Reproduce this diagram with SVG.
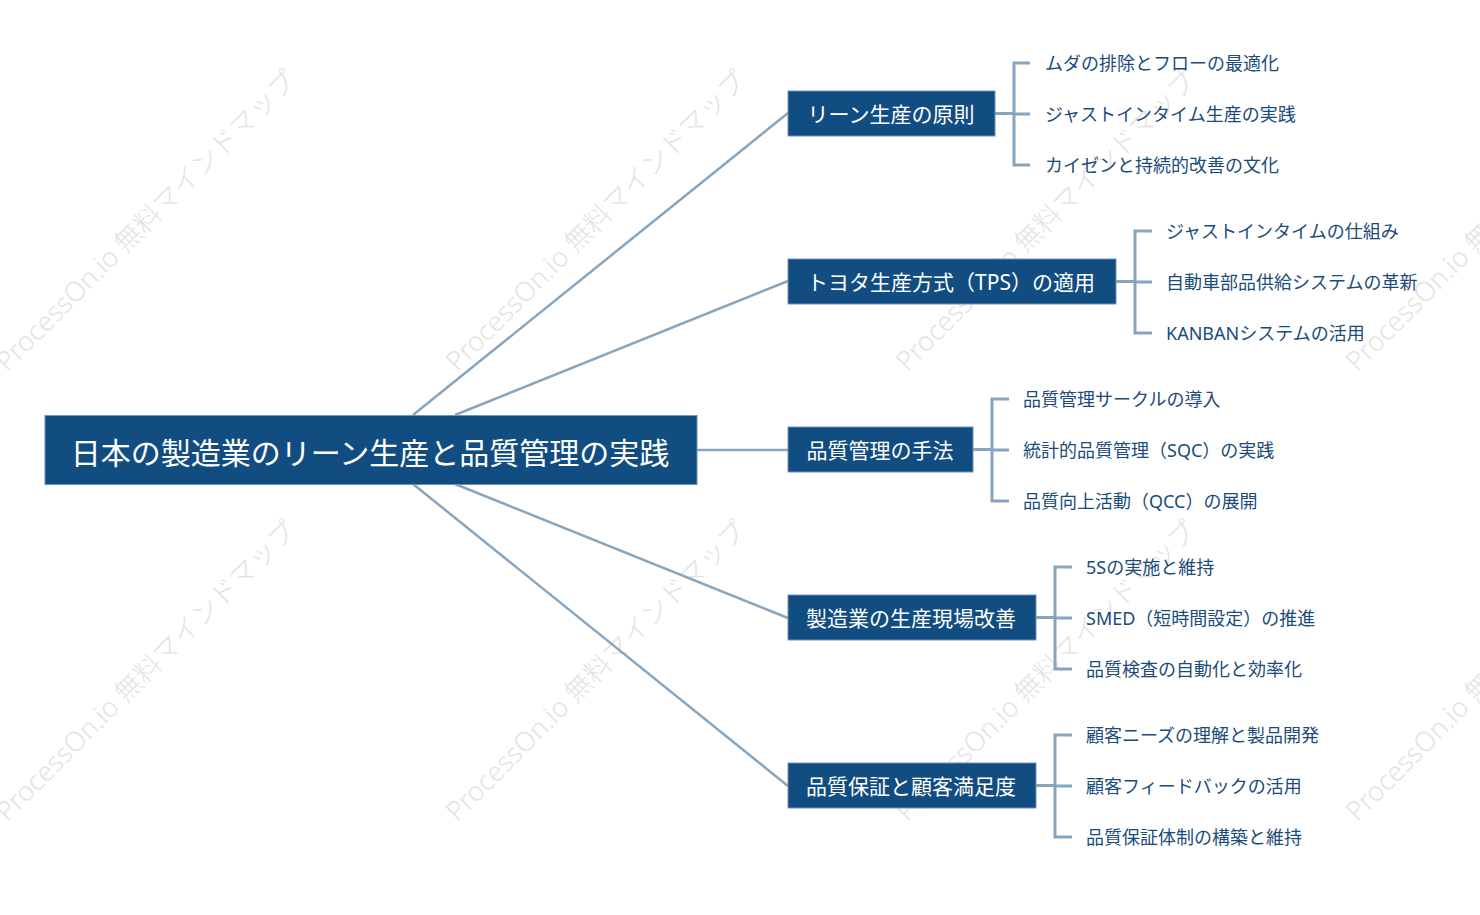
<svg xmlns="http://www.w3.org/2000/svg" width="1480" height="915" viewBox="0 0 1480 915">
<style>
.wm{font-family:"Noto Sans","Noto Sans CJK JP",sans-serif;font-size:27px;font-weight:300;fill:#e3e3e3;text-anchor:middle;dominant-baseline:central}
.box{fill:#114d80;stroke:#6f93b5;stroke-width:1}
.rt{font-family:"Noto Sans","Noto Sans CJK JP",sans-serif;font-size:30px;fill:#fff;text-anchor:middle;dominant-baseline:central}
.bt{font-family:"Noto Sans","Noto Sans CJK JP",sans-serif;font-size:21px;fill:#fff;text-anchor:middle;dominant-baseline:central}
.lt{font-family:"Noto Sans","Noto Sans CJK JP",sans-serif;font-size:18px;fill:#1a4b7a;dominant-baseline:central}
.c{fill:none;stroke:#87a5bf;stroke-width:2.5}
.br{fill:none;stroke:#87a5bf;stroke-width:3}
</style>
<rect width="1480" height="915" fill="#fff"/>
<g id="watermarks">
<text class="wm" transform="translate(145,220) rotate(-45)">ProcessOn.io 無料マインドマップ</text>
<text class="wm" transform="translate(595,220) rotate(-45)">ProcessOn.io 無料マインドマップ</text>
<text class="wm" transform="translate(1045,220) rotate(-45)">ProcessOn.io 無料マインドマップ</text>
<text class="wm" transform="translate(1495,220) rotate(-45)">ProcessOn.io 無料マインドマップ</text>
<text class="wm" transform="translate(145,670) rotate(-45)">ProcessOn.io 無料マインドマップ</text>
<text class="wm" transform="translate(595,670) rotate(-45)">ProcessOn.io 無料マインドマップ</text>
<text class="wm" transform="translate(1045,670) rotate(-45)">ProcessOn.io 無料マインドマップ</text>
<text class="wm" transform="translate(1495,670) rotate(-45)">ProcessOn.io 無料マインドマップ</text>
</g>
<g id="connectors">
<path class="c" d="M413,415 L788,113"/>
<path class="c" d="M455,415 L788,281"/>
<path class="c" d="M697,450 L788,450"/>
<path class="c" d="M455,484 L788,618"/>
<path class="c" d="M413,484 L788,786"/>
<path class="br" d="M995,113.5 H1014 M1030,63 H1014 V165 H1030 M1014,114 H1030"/>
<path class="br" d="M1116,281.5 H1135 M1152,231 H1135 V333 H1152 M1135,282 H1152"/>
<path class="br" d="M973,449.5 H992 M1009,399 H992 V501 H1009 M992,450 H1009"/>
<path class="br" d="M1036,617.5 H1055 M1072,567 H1055 V669 H1072 M1055,618 H1072"/>
<path class="br" d="M1036,785.5 H1055 M1072,735 H1055 V837 H1072 M1055,786 H1072"/>
</g>
<g id="root">
<rect class="box" x="45" y="415.5" width="652" height="69"/>
<text class="rt" x="370" y="452">日本の製造業のリーン生産と品質管理の実践</text>
</g>
<g id="b1">
<rect class="box" x="788" y="91" width="207" height="45"/>
<text class="bt" x="891" y="114">リーン生産の原則</text>
</g>
<g id="b1-leaves">
<text class="lt" x="1045" y="63">ムダの排除とフローの最適化</text>
<text class="lt" x="1045" y="114">ジャストインタイム生産の実践</text>
<text class="lt" x="1045" y="165">カイゼンと持続的改善の文化</text>
</g>
<g id="b2">
<rect class="box" x="788" y="259" width="328" height="45"/>
<text class="bt" x="951" y="282">トヨタ生産方式（TPS）の適用</text>
</g>
<g id="b2-leaves">
<text class="lt" x="1166" y="231">ジャストインタイムの仕組み</text>
<text class="lt" x="1166" y="282">自動車部品供給システムの革新</text>
<text class="lt" x="1166" y="333">KANBANシステムの活用</text>
</g>
<g id="b3">
<rect class="box" x="788" y="427" width="185" height="45"/>
<text class="bt" x="880" y="450">品質管理の手法</text>
</g>
<g id="b3-leaves">
<text class="lt" x="1023" y="399">品質管理サークルの導入</text>
<text class="lt" x="1023" y="450">統計的品質管理（SQC）の実践</text>
<text class="lt" x="1023" y="501">品質向上活動（QCC）の展開</text>
</g>
<g id="b4">
<rect class="box" x="788" y="595" width="248" height="45"/>
<text class="bt" x="911" y="618">製造業の生産現場改善</text>
</g>
<g id="b4-leaves">
<text class="lt" x="1086" y="567">5Sの実施と維持</text>
<text class="lt" x="1086" y="618">SMED（短時間設定）の推進</text>
<text class="lt" x="1086" y="669">品質検査の自動化と効率化</text>
</g>
<g id="b5">
<rect class="box" x="788" y="763" width="248" height="45"/>
<text class="bt" x="911" y="786">品質保証と顧客満足度</text>
</g>
<g id="b5-leaves">
<text class="lt" x="1086" y="735">顧客ニーズの理解と製品開発</text>
<text class="lt" x="1086" y="786">顧客フィードバックの活用</text>
<text class="lt" x="1086" y="837">品質保証体制の構築と維持</text>
</g>
</svg>
